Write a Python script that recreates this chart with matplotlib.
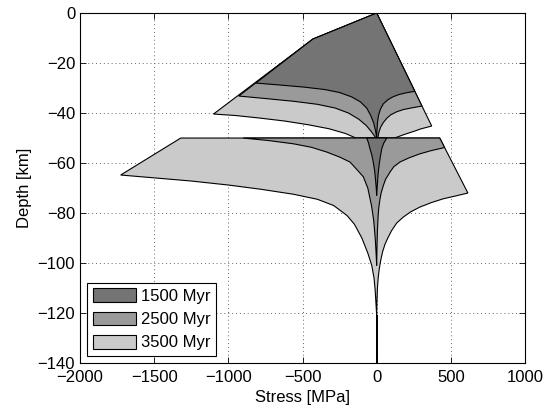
import matplotlib
matplotlib.use("Agg")
import matplotlib.pyplot as plt

plt.rcParams['font.family'] = ['Liberation Sans', 'DejaVu Sans']
plt.rcParams['font.size'] = 12

ages = ["1500 Myr", "2500 Myr", "3500 Myr"]
colors = ["#747474", "#9a9a9a", "#cacaca"]

# crust (0-50 km): brittle kink shared by all ages on the compressive side
crust_kink = (-430, -10.4)

# crust, compressive side (stress, depth)
crust_c_1500 = [(-815, -28), (-650, -28.8), (-494, -29.6), (-350, -30.6), (-250, -31.8),
                (-170, -33.5), (-110, -35.5), (-67, -38), (-40, -41), (-20, -44),
                (-8, -47), (0, -50)]
crust_c_2500 = [(-930, -33.2), (-750, -34.2), (-560, -35.3), (-400, -36.5), (-280, -38),
                (-190, -40), (-120, -42.5), (-70, -45), (-35, -47.5), (-5, -50)]
crust_c_3500 = [(-1100, -40.4), (-950, -41), (-790, -42), (-620, -43.2), (-460, -44.7),
                (-320, -46.3), (-210, -48.2), (-140, -50)]

# crust, tensile side (stress, depth), from brittle line downwards
crust_t_1500 = [(257, -31.3), (200, -31.9), (150, -32.6), (110, -33.5), (75, -34.7),
                (45, -36.3), (25, -38.5), (12, -41), (5, -44), (2, -47), (0, -50)]
crust_t_2500 = [(305, -37.2), (240, -37.9), (180, -38.6), (135, -39.5), (95, -40.7),
                (68, -42.1), (45, -43.8), (27, -45.6), (15, -47.7), (8, -50)]
crust_t_3500 = [(371, -45.2), (300, -46.3), (247, -47.4), (190, -48.5), (120, -50)]

# mantle (below 50 km)
mantle_top_c = {"1500": (-67, -50), "2500": (-900, -50), "3500": (-1321, -50)}
mantle_top_t = {"1500": (68, -50), "2500": (425, -50), "3500": (425, -50)}

mantle_c_1500 = [(-55, -52), (-45, -54.3), (-32, -57), (-22, -60), (-14, -63),
                 (-8, -66.5), (-3, -70), (0, -73)]
mantle_c_2500 = [(-730, -51), (-562, -52.3), (-440, -53.7), (-337, -55.6), (-250, -57.6),
                 (-180, -59.6), (-135, -62.5), (-90, -65.5), (-60, -70), (-35, -77),
                 (-20, -83), (-10, -90), (-4, -96), (0, -101)]
mantle_c_3500 = [(-1726, -64.8), (-1506, -65.9), (-1250, -67.2), (-1000, -68.8),
                 (-780, -70.5), (-560, -72.5), (-400, -74.5), (-290, -77), (-200, -81),
                 (-150, -84.5), (-100, -90), (-60, -96), (-33, -101), (-18, -106),
                 (-10, -111), (-5, -116), (0, -121), (0, -140)]

mantle_t_1500 = [(68, -50), (48, -52), (34, -54.3), (26, -57), (18, -60), (12, -63),
                 (7, -66.5), (3, -70), (0, -73)]
mantle_t_2500 = [(458, -53.8), (370, -55), (292, -56.3), (215, -58), (157, -59.6),
                 (115, -61.5), (90, -63.6), (60, -66.5), (45, -69), (30, -72),
                 (22, -74.5), (14, -78), (10, -81), (5, -87), (2, -94), (0, -101)]
mantle_t_3500 = [(615, -72), (530, -73.2), (449, -74.3), (370, -75.8), (292, -77.6),
                 (230, -79.5), (180, -81.6), (135, -84), (101, -87), (75, -90),
                 (56, -92.5), (40, -95.5), (27, -99), (17, -102.5), (10, -106),
                 (5, -110), (2, -115), (0, -121), (0, -140)]

crust_c = {"1500": crust_c_1500, "2500": crust_c_2500, "3500": crust_c_3500}
crust_t = {"1500": crust_t_1500, "2500": crust_t_2500, "3500": crust_t_3500}
mantle_c = {"1500": mantle_c_1500, "2500": mantle_c_2500, "3500": mantle_c_3500}
mantle_t = {"1500": mantle_t_1500, "2500": mantle_t_2500, "3500": mantle_t_3500}

fig = plt.figure(figsize=(5.47, 4.08), dpi=100)
ax = fig.add_axes([0.1463, 0.1103, 0.8135, 0.8577])

keys = ["3500", "2500", "1500"]
col = dict(zip(["1500", "2500", "3500"], colors))
handles = {}

# crust polygons
for k in keys:
    pts = [(0, 0), crust_kink] + crust_c[k] + crust_t[k][::-1] + [(0, 0)]
    xs = [p[0] for p in pts]
    ys = [p[1] for p in pts]
    h = ax.fill(xs, ys, facecolor=col[k], edgecolor='k', linewidth=0.8)
    handles[k] = h[0]

# mantle polygons
for k in keys:
    pts = [mantle_top_c[k]] + mantle_c[k] + mantle_t[k][::-1] + [mantle_top_t[k]]
    xs = [p[0] for p in pts]
    ys = [p[1] for p in pts]
    ax.fill(xs, ys, facecolor=col[k], edgecolor='k', linewidth=0.8)

# deep tail where all envelopes collapse onto zero stress
ax.plot([0, 0], [mantle_c_3500[-2][1], mantle_c_3500[-1][1]], color='k', linewidth=1.4)

ax.set_xlim(-2000, 1000)
ax.set_ylim(-140, 0)
ax.set_xticks(range(-2000, 1001, 500))
ax.set_yticks(range(-140, 1, 20))
ax.grid(True, linestyle=(0, (1, 3)), color='#666666', linewidth=0.7)
ax.set_axisbelow(True)
ax.tick_params(direction='in', top=True, right=True, length=4, width=0.6)
ax.tick_params(axis='x', pad=5)
for s in ax.spines.values():
    s.set_linewidth(0.8)
ax.set_xlabel("Stress [MPa]", labelpad=4)
ax.set_ylabel("Depth [km]", labelpad=4)

leg = ax.legend([handles["1500"], handles["2500"], handles["3500"]], ages,
                loc='lower left', fancybox=False, edgecolor='k', framealpha=1,
                handlelength=2.6, handleheight=0.9, handletextpad=0.3,
                labelspacing=0.45, borderpad=0.35, borderaxespad=0.4)
leg.get_frame().set_linewidth(0.8)

fig.savefig("out.png", dpi=100)
